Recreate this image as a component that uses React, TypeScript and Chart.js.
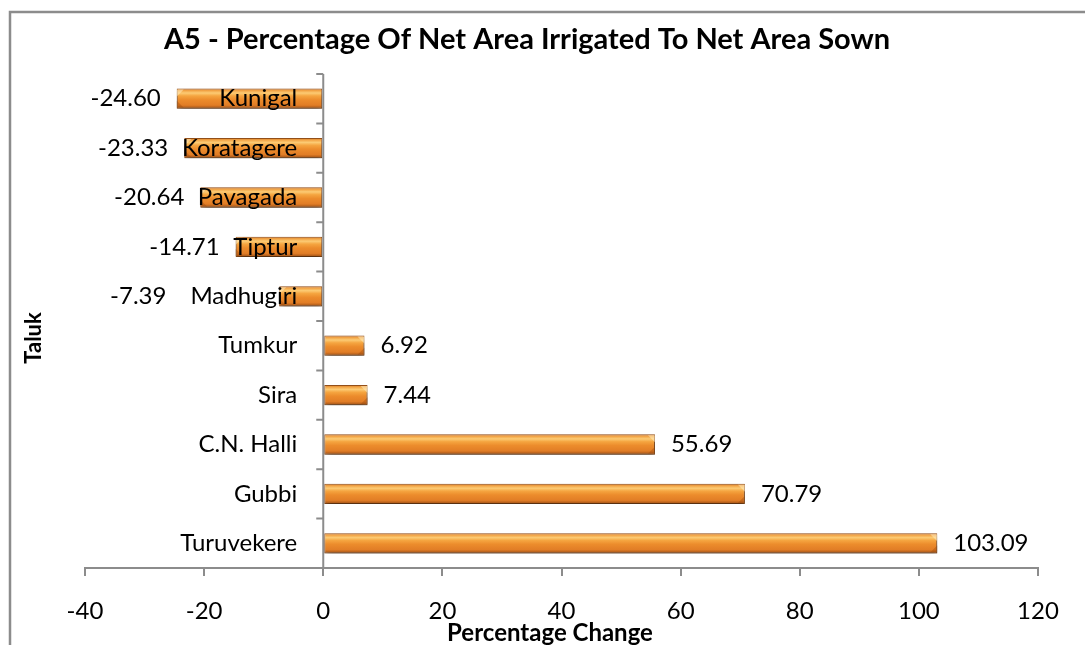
import React, { useEffect, useRef } from 'react';
import { Chart, registerables } from 'chart.js';

Chart.register(...registerables);

const categories = ['Kunigal', 'Koratagere', 'Pavagada', 'Tiptur', 'Madhugiri', 'Tumkur', 'Sira', 'C.N. Halli', 'Gubbi', 'Turuvekere'];
const values = [-24.6, -23.33, -20.64, -14.71, -7.39, 6.92, 7.44, 55.69, 70.79, 103.09];
const valueLabels = ['-24.60', '-23.33', '-20.64', '-14.71', '-7.39', '6.92', '7.44', '55.69', '70.79', '103.09'];
const xMin = -40;
const xMax = 120;
const xStep = 20;
const titleText = 'A5 - Percentage Of Net Area Irrigated To Net Area Sown';
const xAxisTitle = 'Percentage Change';
const yAxisTitle = 'Taluk';

const FONT = 'Lato, "Open Sans", sans-serif';
const BAR_PCT = 0.41;
const AXIS_COLOR = '#8c8c8c';

function barGradient(ctx: CanvasRenderingContext2D, y0: number, y1: number) {
  const g = ctx.createLinearGradient(0, y0, 0, y1);
  g.addColorStop(0, '#D0711F');
  g.addColorStop(0.1, '#F2A446');
  g.addColorStop(0.22, '#FCCB74');
  g.addColorStop(0.36, '#F5A540');
  g.addColorStop(0.55, '#EC8C2C');
  g.addColorStop(0.82, '#E17D26');
  g.addColorStop(0.92, '#B9621C');
  g.addColorStop(1, '#8A4814');
  return g;
}

const overlayPlugin = {
  id: 'overlay',
  beforeDraw(chart: any) {
    const { ctx } = chart;
    ctx.save();
    ctx.fillStyle = '#ffffff';
    ctx.fillRect(0, 0, chart.width, chart.height);
    ctx.strokeStyle = AXIS_COLOR;
    ctx.lineWidth = 2.5;
    ctx.strokeRect(10, 12, chart.width + 20, chart.height + 20);
    // chart title
    ctx.fillStyle = '#000';
    ctx.font = `bold 29px ${FONT}`;
    ctx.textAlign = 'center';
    ctx.textBaseline = 'middle';
    ctx.fillText(titleText, 527, 40);
    // x axis title
    ctx.font = `bold 24px ${FONT}`;
    ctx.fillText(xAxisTitle, 550, 633);
    ctx.restore();
  },
  beforeDatasetsDraw(chart: any) {
    const { ctx } = chart;
    ctx.save();
    ctx.shadowColor = 'rgba(0,0,0,0.45)';
    ctx.shadowOffsetX = 1;
    ctx.shadowOffsetY = 5;
    ctx.shadowBlur = 7;
  },
  afterDatasetsDraw(chart: any) {
    const { ctx, chartArea } = chart;
    ctx.restore();
    const xs = chart.scales.x;
    const ys = chart.scales.y;
    const x0 = xs.getPixelForValue(0);
    const band = (chartArea.bottom - chartArea.top) / categories.length;
    const meta = chart.getDatasetMeta(0);

    // bevel highlights at bar ends
    ctx.save();
    meta.data.forEach((bar: any, i: number) => {
      const h = bar.height;
      const yTop = bar.y - h / 2;
      const xEnd = bar.x;
      const dir = values[i] >= 0 ? -1 : 1;
      const w = Math.min(7, Math.abs(bar.x - bar.base) / 2);
      ctx.fillStyle = 'rgba(255,235,190,0.55)';
      ctx.beginPath();
      ctx.moveTo(xEnd, yTop + 1);
      ctx.lineTo(xEnd + dir * w, yTop + 1);
      ctx.lineTo(xEnd, yTop + w + 1);
      ctx.closePath();
      ctx.fill();
      ctx.fillStyle = 'rgba(150,70,10,0.35)';
      ctx.beginPath();
      ctx.moveTo(xEnd, yTop + h - 1);
      ctx.lineTo(xEnd + dir * w, yTop + h - 1);
      ctx.lineTo(xEnd, yTop + h - w - 1);
      ctx.closePath();
      ctx.fill();
    });
    ctx.restore();

    // y axis line and tick marks at x = 0
    ctx.save();
    ctx.strokeStyle = AXIS_COLOR;
    ctx.lineWidth = 2;
    ctx.beginPath();
    ctx.moveTo(x0, chartArea.top);
    ctx.lineTo(x0, chartArea.bottom);
    for (let i = 0; i <= categories.length; i++) {
      const y = chartArea.top + i * band;
      ctx.moveTo(x0 - 7, y);
      ctx.lineTo(x0, y);
    }
    ctx.stroke();
    ctx.restore();

    // category labels and value labels
    ctx.save();
    ctx.font = `24px ${FONT}`;
    ctx.fillStyle = '#000';
    ctx.textBaseline = 'middle';
    categories.forEach((cat, i) => {
      const y = ys.getPixelForValue(i);
      const catRight = x0 - 26;
      const catW = ctx.measureText(cat).width;
      ctx.textAlign = 'right';
      ctx.fillText(cat, catRight, y);
      const v = values[i];
      const xv = xs.getPixelForValue(v);
      if (v >= 0) {
        ctx.textAlign = 'left';
        ctx.fillText(valueLabels[i], xv + 16, y);
      } else {
        let right = xv - 16;
        const catLeft = catRight - catW;
        if (right > catLeft) right = catLeft - 24;
        ctx.textAlign = 'right';
        ctx.fillText(valueLabels[i], right, y);
      }
    });
    // y axis title
    ctx.font = `bold 22px ${FONT}`;
    ctx.translate(34, 338);
    ctx.rotate(-Math.PI / 2);
    ctx.textAlign = 'center';
    ctx.fillText(yAxisTitle, 0, 0);
    ctx.restore();
  },
};

export default function App() {
  const canvasRef = useRef<HTMLCanvasElement | null>(null);

  useEffect(() => {
    if (!canvasRef.current) return;
    const chart = new Chart(canvasRef.current, {
      type: 'bar',
      data: {
        labels: categories,
        datasets: [
          {
            data: values,
            backgroundColor: (c: any) => {
              const ch = c.chart;
              const ys = ch.scales?.y;
              if (!ys || !ch.chartArea) return '#E8892E';
              const yc = ys.getPixelForValue(c.dataIndex);
              const h = ((ys.bottom - ys.top) / categories.length) * BAR_PCT;
              return barGradient(ch.ctx, yc - h / 2, yc + h / 2);
            },
            borderColor: '#96511A',
            borderWidth: 1,
            borderSkipped: false,
            barPercentage: BAR_PCT,
            categoryPercentage: 1,
          },
        ],
      },
      options: {
        indexAxis: 'y',
        animation: false,
        responsive: true,
        maintainAspectRatio: false,
        layout: { padding: { left: 85, right: 47, top: 74, bottom: 0 } },
        plugins: {
          legend: { display: false },
          tooltip: { enabled: false },
          title: { display: false },
        },
        scales: {
          x: {
            type: 'linear',
            min: xMin,
            max: xMax,
            afterFit: (scale: any) => {
              scale.height = 77;
            },
            ticks: {
              stepSize: xStep,
              color: '#000',
              padding: 21,
              font: { family: FONT, size: 24 },
            },
            grid: {
              drawOnChartArea: false,
              drawTicks: true,
              tickLength: 8,
              color: AXIS_COLOR,
              lineWidth: 2,
            },
            border: { display: true, color: AXIS_COLOR, width: 2 },
            title: { display: false },
          },
          y: {
            type: 'category',
            display: false,
            offset: true,
          },
        },
      },
      plugins: [overlayPlugin],
    });
    return () => chart.destroy();
  }, []);

  return (
    <div style={{ position: 'fixed', left: 0, top: 0, width: 1085, height: 645, background: '#fff' }}>
      <canvas ref={canvasRef} />
    </div>
  );
}
